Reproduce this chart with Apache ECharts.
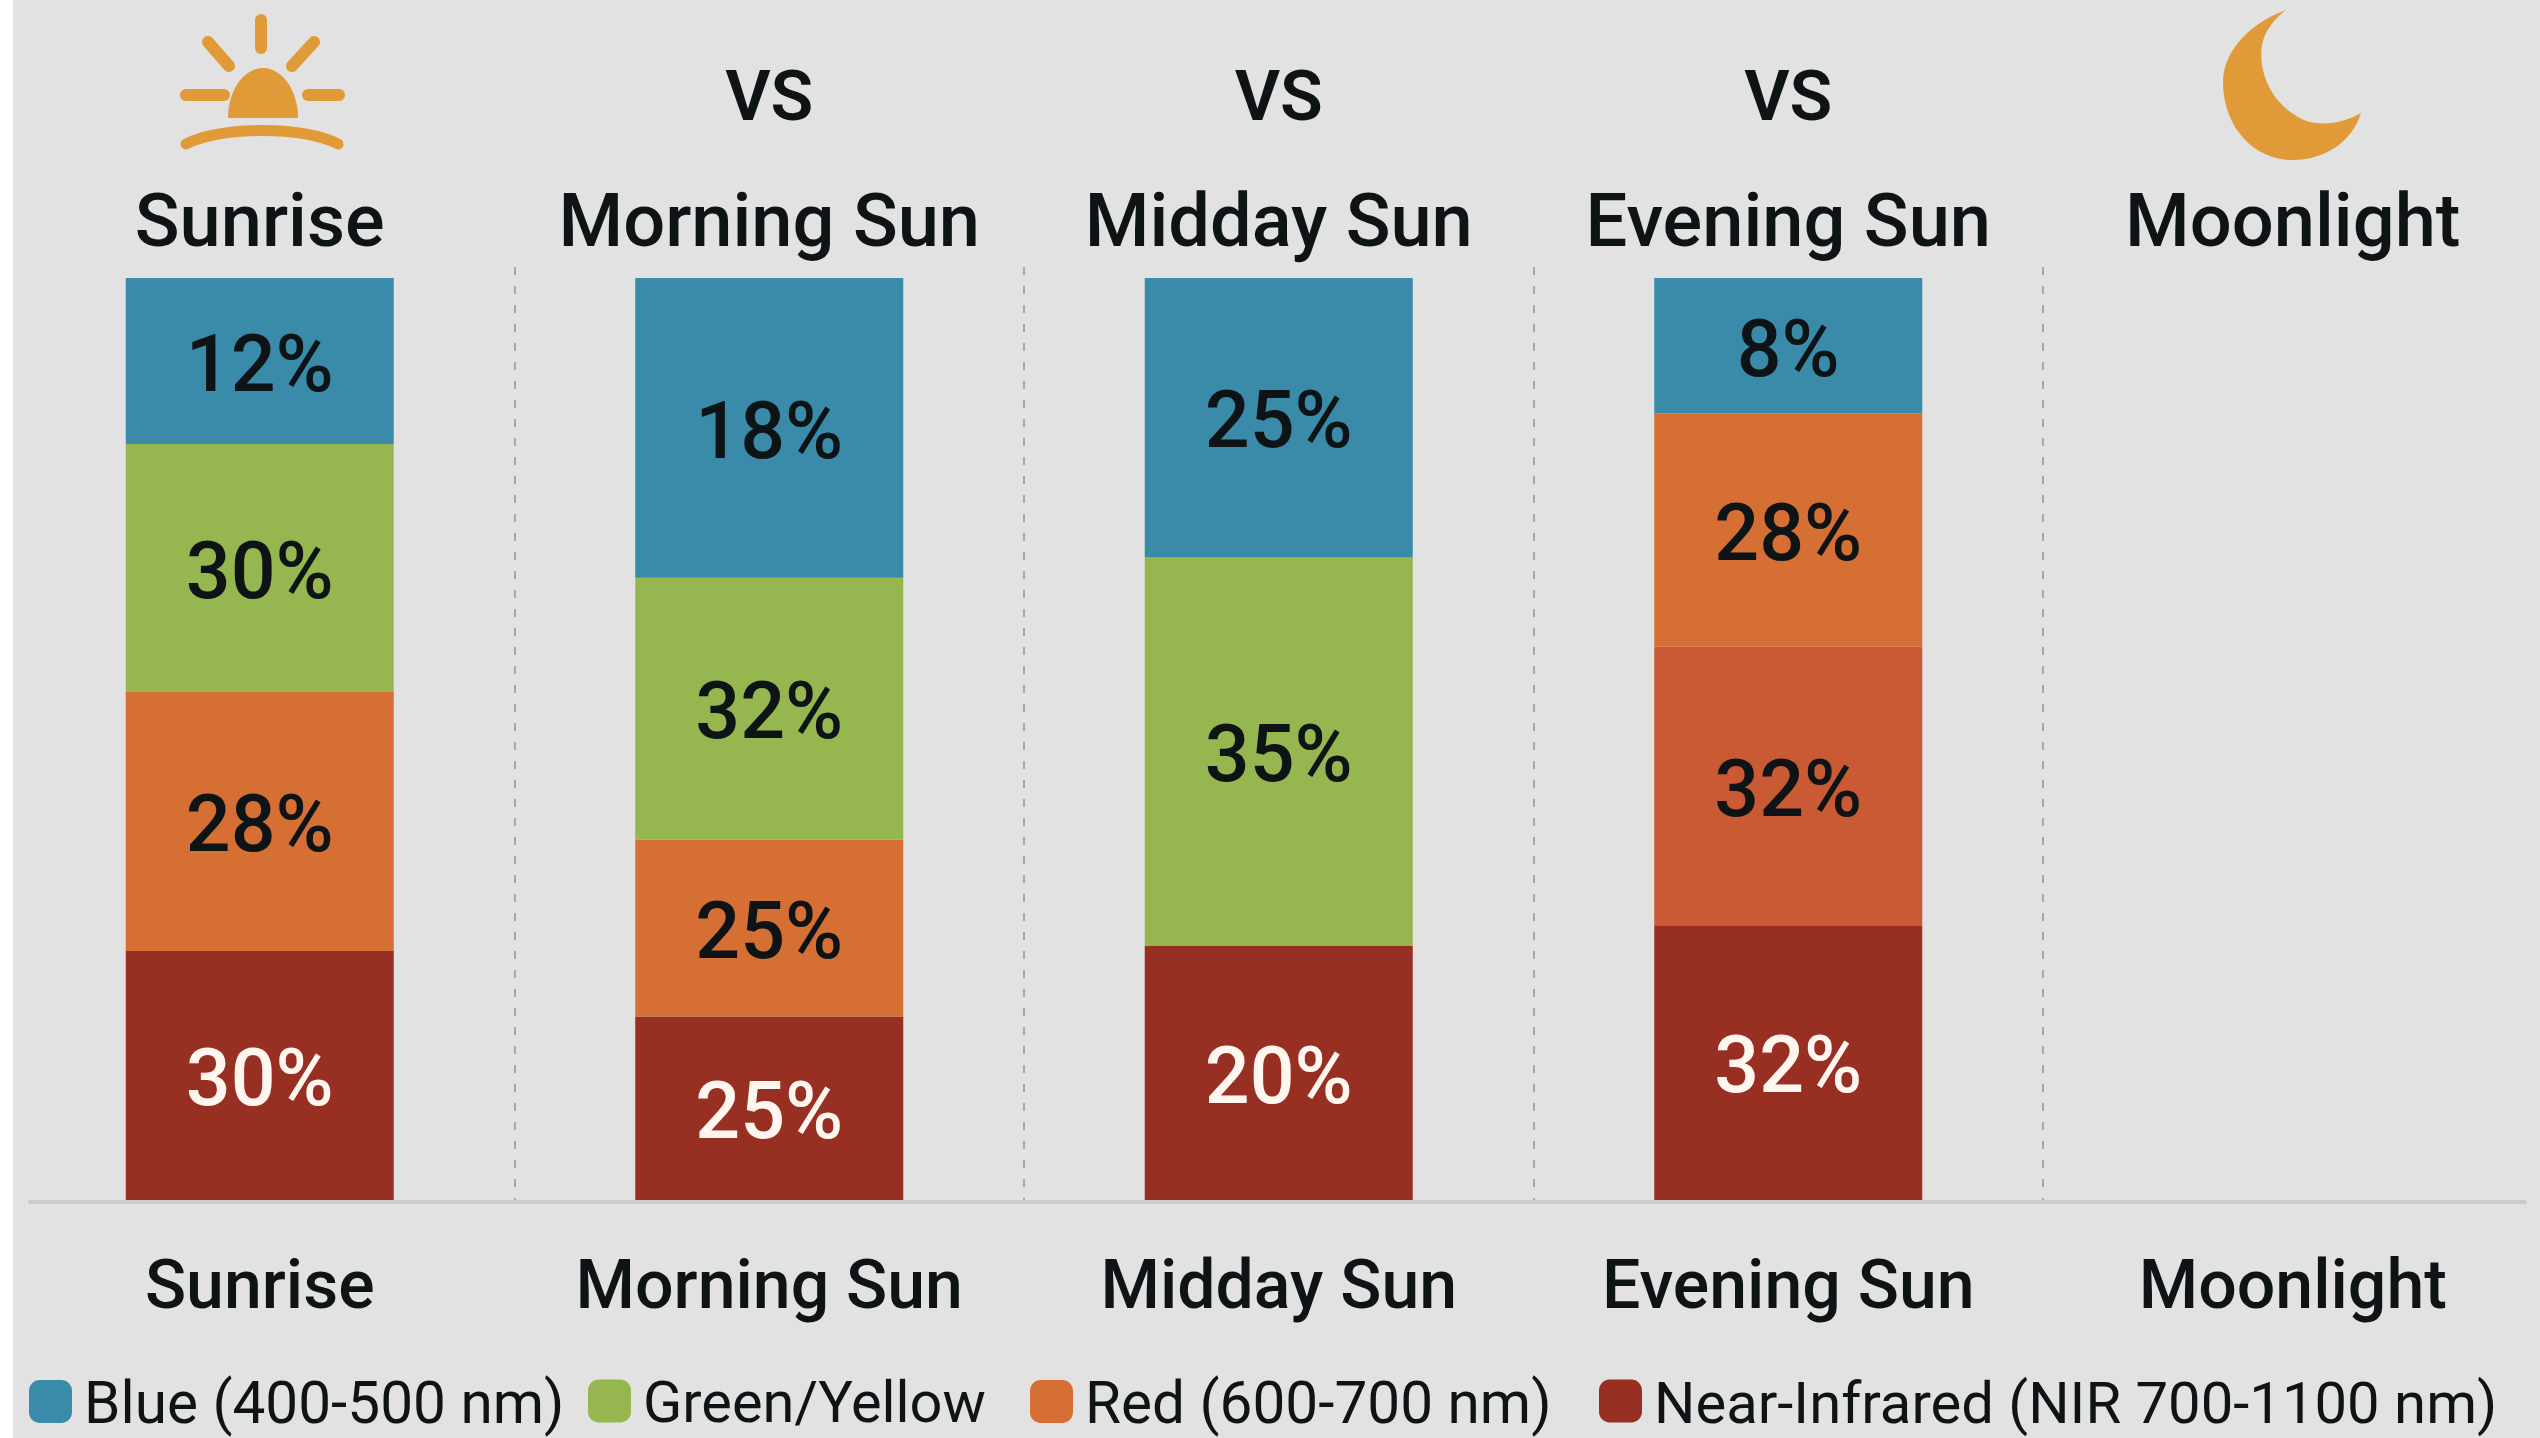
<!DOCTYPE html>
<html>
<head>
<meta charset="utf-8">
<style>html,body{margin:0;padding:0;background:#e2e2e3}#chart{width:2540px;height:1438px}</style>
<script src="https://cdn.jsdelivr.net/npm/echarts@6/dist/echarts.min.js"></script>
</head>
<body>
<div id="chart"></div>
<script>
const categories = ['Sunrise', 'Morning Sun', 'Midday Sun', 'Evening Sun', 'Moonlight'];
const vsLabels = ['', 'VS', 'VS', 'VS', ''];
const seriesNames = ['Blue (400-500 nm)', 'Green/Yellow', 'Red (600-700 nm)', 'Near-Infrared (NIR 700-1100 nm)'];

// Segment heights as drawn in the picture (share of column height)
const blueHeights  = [18.0, 32.5, 30.3, 14.7, null];
const greenHeights = [26.9, 28.4, 42.1, null, null];
const redHeights   = [28.1, 19.2, null, 25.3, null];
const nearRedHeights = [null, null, null, 30.2, null];
const nirHeights   = [27.0, 19.9, 27.6, 29.8, null];

// Percentages as printed on the segments
const blueLabels  = [12, 18, 25, 8, null];
const greenLabels = [30, 32, 35, null, null];
const redLabels   = [28, 25, null, 28, null];
const nearRedLabels = [null, null, null, 32, null];
const nirLabels   = [30, 25, 20, 32, null];

const C = {blue:'#3a8ba9', green:'#96b74f', red:'#d66f34', nearRed:'#c95a33', nir:'#982f23', ink:'#0e1416', icon:'#e09a38'};
const FONT = 'Roboto';

echarts.graphic.registerShape('sunDome', echarts.graphic.extendPath('M228 118 C228 90 244 68 263 68 C282 68 298 90 298 118 Z', {}));
echarts.graphic.registerShape('sunArc', echarts.graphic.extendPath('M186 144 C220 126 305 126 338 144', {}));
echarts.graphic.registerShape('moonIcon', echarts.graphic.extendPath('M2286 10 C2245 25 2223 55 2223 82 C2223 128 2255 160 2292 160 C2325 160 2352 142 2361 113 C2340 125 2312 128 2295 115 C2270 100 2258 70 2262 45 C2265 30 2275 18 2286 10 Z', {}));

function barSeries(name, values, labels, color, labelColor) {
  return {
    name, type:'bar', stack:'total', xAxisIndex:0, yAxisIndex:0, barWidth:268,
    data: values, itemStyle:{color}, silent:true,
    label:{show:true, position:'inside', offset:[0,10], fontFamily:FONT, fontSize:79, fontWeight:500,
      color:labelColor, formatter:p => labels[p.dataIndex] == null ? '' : labels[p.dataIndex] + '%'}
  };
}

// The last heading sits a little left of its band centre in the reference
const axisCategories = categories.map((c, i) => i === categories.length - 1
  ? {value:c, textStyle:{padding:[0,10,0,0]}} : c);

const chart = echarts.init(document.getElementById('chart'), null, {renderer:'canvas'});
const legendPos = [29, 588, 1030, 1599];
const legendSizes = [58.5, 57.7, 58.5, 58];
chart.setOption({
  animation:false,
  backgroundColor:'#e2e2e3',
  grid:[
    {left:5, top:267, width:2547.5, height:933, outerBoundsMode:'none'},
    {left:30, top:267, width:2495, height:935, outerBoundsMode:'none'}
  ],
  xAxis:[
    {gridIndex:0, type:'category', position:'bottom', data:axisCategories,
      axisLine:{show:false}, axisTick:{show:false},
      splitLine:{show:true, interval:i => i > 0, lineStyle:{color:'#a5a7a9', width:2, type:[8,11]}},
      axisLabel:{interval:0, margin:57, fontFamily:FONT, fontWeight:500, fontSize:68, color:C.ink}},
    {gridIndex:0, type:'category', position:'top', data:axisCategories,
      axisLine:{show:false}, axisTick:{show:false}, splitLine:{show:false},
      axisLabel:{interval:0, margin:3, fontFamily:FONT, fontWeight:500, fontSize:74, color:C.ink}},
    {gridIndex:0, type:'category', position:'top', offset:127, data:vsLabels,
      axisLine:{show:false}, axisTick:{show:false}, splitLine:{show:false},
      axisLabel:{interval:0, margin:3, fontFamily:FONT, fontWeight:600, fontSize:70, color:C.ink}},
    {gridIndex:1, type:'value', min:0, max:1, position:'bottom',
      axisLine:{show:true, lineStyle:{color:'#c9cbcc', width:4}}, axisTick:{show:false},
      axisLabel:{show:false}, splitLine:{show:false}}
  ],
  yAxis:[
    {gridIndex:0, type:'value', min:0, max:101.2, show:false},
    {gridIndex:1, type:'value', min:0, max:1, show:false}
  ],
  legend: seriesNames.map((n,i) => ({
    data:[n], left:legendPos[i], top:1379, itemWidth:43, itemHeight:43, icon:'roundRect',
    selectedMode:false, padding:0,
    formatter:name => '{t|' + name + '}',
    textStyle:{rich:{t:{fontFamily:FONT, fontSize:legendSizes[i], color:C.ink, padding:[14,0,0,7]}}}
  })),
  series:[
    barSeries(seriesNames[3], nirHeights, nirLabels, C.nir, '#fff6f0'),
    barSeries('Red, near band', nearRedHeights, nearRedLabels, C.nearRed, C.ink),
    barSeries(seriesNames[2], redHeights, redLabels, C.red, C.ink),
    barSeries(seriesNames[1], greenHeights, greenLabels, C.green, C.ink),
    barSeries(seriesNames[0], blueHeights, blueLabels, C.blue, C.ink)
  ],
  graphic:[
    {type:'rect', z:100, shape:{x:0,y:0,width:13,height:1438}, style:{fill:'#ffffff'}},
    {type:'sunDome', style:{fill:C.icon}},
    ...[[261,20,261,48],[208,42,229,66],[314,42,292,66],[186,95,224,95],[308,95,339,95]].map(l => ({
      type:'line', shape:{x1:l[0],y1:l[1],x2:l[2],y2:l[3]}, style:{stroke:C.icon, lineWidth:12, lineCap:'round'}
    })),
    {type:'sunArc', style:{fill:'none', stroke:C.icon, lineWidth:11, lineCap:'round'}},
    {type:'moonIcon', style:{fill:C.icon}}
  ]
});
</script>
</body>
</html>
